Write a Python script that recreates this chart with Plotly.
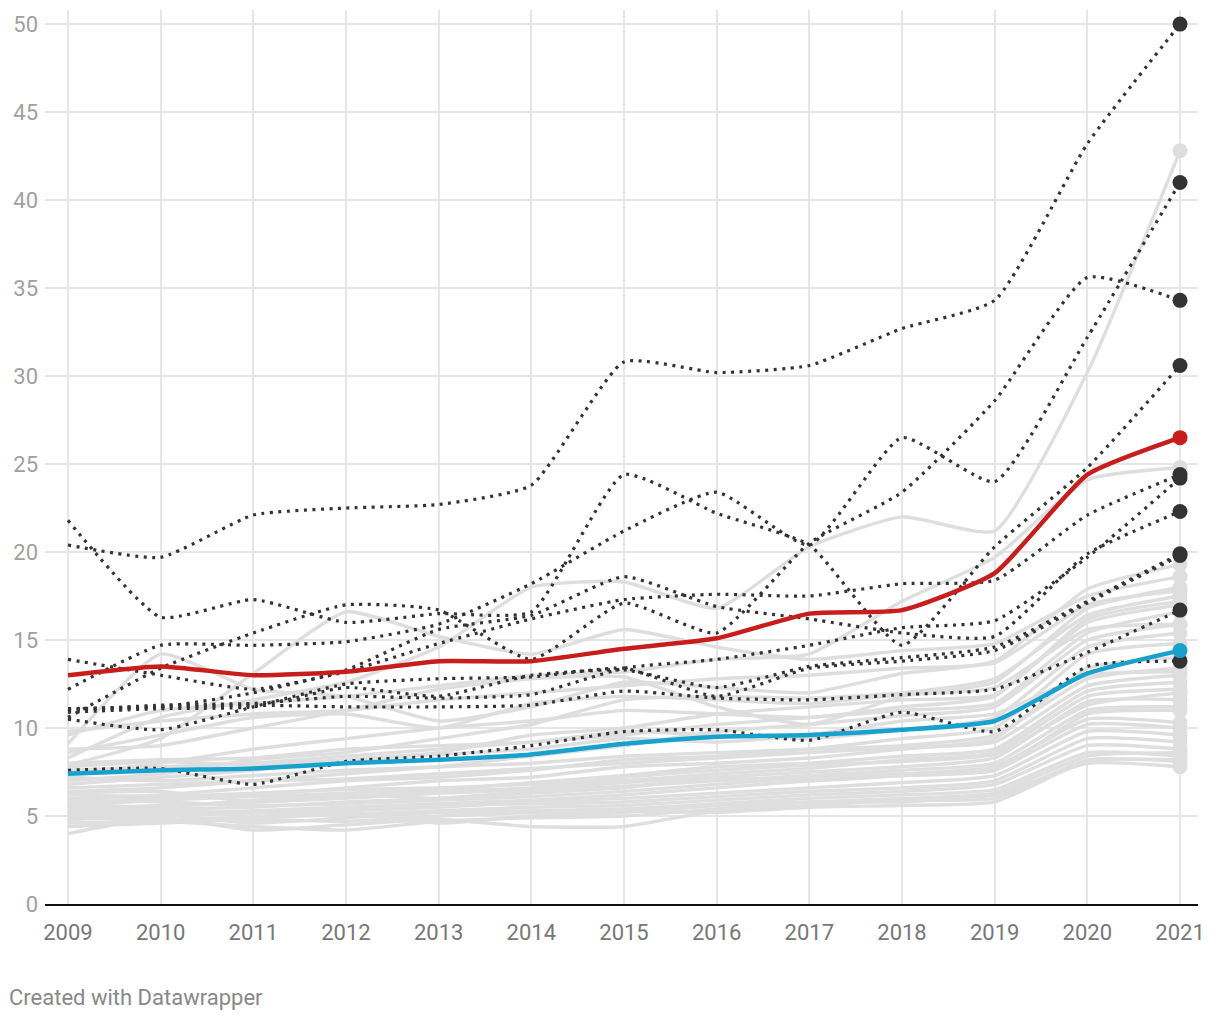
import plotly.graph_objects as go

years = list(range(2009, 2022))

# highlighted series
red_values = [13.0, 13.5, 13.0, 13.2, 13.8, 13.8, 14.5, 15.1, 16.5, 16.7, 18.8, 24.4, 26.5]
blue_values = [7.4, 7.6, 7.7, 8.0, 8.2, 8.5, 9.1, 9.5, 9.6, 9.9, 10.4, 13.1, 14.4]

# dotted (dark) series
d01 = [20.4, 19.7, 22.1, 22.5, 22.7, 23.8, 30.8, 30.2, 30.6, 32.7, 34.3, 43.2, 50.0]
d02 = [21.8, 16.3, 17.3, 16.0, 16.5, 16.6, 24.4, 22.2, 20.4, 14.7, 20.3, 24.8, 30.6]
d03 = [10.6, 13.4, 15.4, 17.0, 16.7, 13.9, 17.1, 15.4, 20.5, 23.4, 28.6, 35.6, 34.3]
d04 = [12.2, 14.7, 14.7, 14.9, 15.9, 18.2, 21.2, 23.4, 20.4, 26.5, 24.0, 32.2, 41.0]
d05 = [13.9, 13.0, 12.2, 13.2, 14.8, 16.2, 17.3, 17.6, 17.5, 18.2, 18.4, 22.1, 24.4]
d06 = [11.1, 11.2, 12.0, 13.3, 15.6, 16.4, 18.6, 16.9, 16.2, 15.4, 15.2, 19.9, 22.3]
d07 = [11.0, 11.3, 11.4, 11.8, 11.7, 11.9, 13.4, 13.9, 14.7, 15.7, 16.1, 19.7, 24.2]
d08 = [10.9, 11.1, 11.2, 12.3, 11.8, 13.0, 13.3, 12.3, 13.5, 14.0, 14.6, 17.2, 19.9]
d09 = [10.5, 9.9, 11.2, 12.5, 12.8, 12.9, 13.4, 11.8, 13.4, 13.8, 14.4, 17.1, 19.8]
d10 = [11.1, 11.2, 11.3, 11.2, 11.2, 11.3, 12.1, 11.7, 11.6, 11.9, 12.2, 14.3, 16.7]
d11 = [7.6, 7.7, 6.8, 8.1, 8.4, 9.0, 9.8, 9.9, 9.3, 10.9, 9.8, 13.5, 13.8]
dotted_series = [d01, d02, d03, d04, d05, d06, d07, d08, d09, d10, d11]

# background (gray) series
g01 = [8.3, 10.6, 11.6, 12.6, 14.6, 18.0, 18.3, 16.8, 20.3, 22.0, 21.2, 30.2, 42.8]
g02 = [9.6, 11.0, 11.4, 11.8, 12.4, 13.0, 13.2, 13.9, 14.2, 17.2, 19.7, 24.1, 24.8]
g03 = [9.1, 14.2, 12.2, 11.8, 10.4, 11.2, 12.6, 12.3, 12.0, 13.1, 13.8, 17.9, 19.3]
g04 = [7.9, 9.4, 13.1, 16.6, 15.2, 14.2, 15.6, 14.6, 13.9, 14.4, 14.8, 17.5, 18.6]
g05 = [8.8, 9.0, 10.0, 11.0, 12.2, 12.8, 12.9, 11.2, 10.2, 11.8, 12.6, 16.8, 18.0]
g06 = [7.0, 7.4, 8.2, 8.6, 9.4, 10.2, 11.6, 11.8, 11.7, 12.0, 12.8, 16.4, 17.5]
g07 = [6.8, 7.2, 7.6, 8.2, 8.6, 9.6, 10.0, 10.8, 11.2, 11.6, 11.9, 16.0, 17.0]
g08 = [7.6, 7.8, 8.0, 8.4, 8.8, 9.2, 9.6, 10.2, 10.6, 11.0, 11.4, 15.4, 16.6]
g09 = [6.4, 6.6, 7.0, 7.4, 7.8, 8.4, 9.0, 9.8, 10.2, 10.7, 11.2, 15.0, 15.9]
g10 = [8.0, 8.2, 8.3, 8.8, 9.0, 9.2, 9.8, 9.6, 9.4, 9.9, 10.6, 14.6, 15.4]
g11 = [6.0, 6.2, 6.6, 7.0, 7.2, 7.6, 8.2, 8.4, 8.8, 9.4, 10.0, 14.2, 14.8]
g12 = [5.8, 6.0, 6.2, 6.6, 7.0, 7.2, 7.8, 8.0, 8.3, 8.8, 9.4, 13.4, 14.0]
g13 = [7.2, 7.0, 7.3, 7.6, 7.8, 8.0, 8.4, 8.6, 8.8, 9.0, 9.6, 12.8, 13.4]
g14 = [6.6, 6.8, 7.0, 7.1, 7.4, 7.7, 8.0, 8.3, 8.6, 8.9, 9.2, 12.4, 13.0]
g15 = [5.6, 5.9, 6.1, 6.3, 6.5, 6.9, 7.3, 7.8, 8.0, 8.4, 8.8, 12.1, 12.6]
g16 = [6.2, 6.1, 6.3, 6.5, 6.6, 6.8, 7.0, 7.4, 7.7, 8.2, 8.6, 11.8, 12.2]
g17 = [5.4, 5.6, 5.8, 6.0, 6.3, 6.5, 6.9, 7.2, 7.5, 7.8, 8.3, 11.5, 11.6]
g18 = [5.2, 5.4, 5.5, 5.8, 6.0, 6.4, 6.7, 7.0, 7.3, 7.6, 8.0, 11.0, 11.2]
g19 = [6.0, 5.8, 5.6, 5.7, 5.9, 6.1, 6.4, 6.8, 7.2, 7.4, 7.8, 10.5, 10.3]
g20 = [5.0, 5.1, 5.3, 5.5, 5.7, 5.9, 6.2, 6.6, 7.0, 7.3, 7.6, 10.2, 10.0]
g21 = [4.8, 5.0, 5.2, 5.3, 5.5, 5.8, 6.0, 6.3, 6.6, 6.9, 7.3, 9.8, 9.6]
g22 = [5.5, 5.3, 5.2, 5.4, 5.6, 5.7, 5.8, 6.1, 6.4, 6.6, 7.0, 9.4, 9.2]
g23 = [4.9, 4.8, 4.9, 5.1, 5.3, 5.5, 5.6, 5.9, 6.2, 6.4, 6.8, 9.0, 8.8]
g24 = [5.3, 5.1, 4.6, 4.9, 5.2, 5.3, 5.4, 5.7, 6.0, 6.2, 6.5, 8.6, 8.4]
g25 = [4.0, 4.9, 4.2, 4.5, 4.8, 4.4, 4.4, 5.3, 5.6, 5.9, 6.0, 8.2, 8.1]
g26 = [4.6, 4.7, 4.4, 4.2, 4.7, 4.9, 5.0, 5.4, 5.8, 5.8, 6.2, 8.0, 7.8]
g27 = [9.8, 10.4, 10.8, 11.0, 11.6, 12.0, 12.4, 12.8, 13.0, 13.4, 13.7, 17.0, 17.8]
g28 = [8.6, 9.6, 10.6, 10.8, 10.0, 11.4, 11.8, 11.6, 11.4, 11.9, 12.3, 15.6, 15.9]
g29 = [7.4, 8.0, 8.8, 9.4, 10.0, 10.4, 11.0, 10.8, 10.6, 11.2, 11.8, 16.2, 17.2]
g30 = [5.7, 5.5, 5.9, 6.2, 6.0, 6.3, 6.6, 7.2, 7.0, 7.3, 7.6, 10.8, 11.0]
g31 = [6.3, 6.4, 5.8, 6.1, 6.4, 6.6, 7.2, 7.6, 7.9, 8.1, 8.5, 11.3, 12.0]
g32 = [5.1, 5.3, 5.0, 5.2, 4.6, 5.0, 5.2, 5.6, 5.8, 6.0, 6.3, 8.4, 8.6]
g33 = [4.4, 4.6, 4.8, 4.7, 5.0, 5.2, 5.3, 5.2, 5.5, 5.6, 5.8, 8.1, 8.2]
g34 = [7.8, 8.1, 7.9, 8.2, 8.5, 8.8, 9.4, 9.2, 9.6, 10.4, 10.8, 13.0, 13.2]
gray_series = [g01, g02, g03, g04, g05, g06, g07, g08, g09, g10, g11, g12, g13, g14, g15, g16, g17,
               g18, g19, g20, g21, g22, g23, g24, g25, g26, g27, g28, g29, g30, g31, g32, g33, g34]

y_ticks = [0, 5, 10, 15, 20, 25, 30, 35, 40, 45, 50]

GRAY = "#dedede"
DARK = "#333333"
RED = "#c71e1d"
BLUE = "#18a1cd"
SMOOTH = 0.5

fig = go.Figure()


def add_series(vals, color, width, dash="solid", msize=15):
    fig.add_trace(go.Scatter(
        x=years, y=vals, mode="lines",
        line=dict(color=color, width=width, dash=dash, shape="spline", smoothing=SMOOTH),
        hoverinfo="skip", showlegend=False))
    fig.add_trace(go.Scatter(
        x=[years[-1]], y=[vals[-1]], mode="markers",
        marker=dict(color=color, size=msize, line=dict(width=0)),
        hoverinfo="skip", showlegend=False))


for s in gray_series:
    add_series(s, GRAY, 3.4)
for s in dotted_series:
    add_series(s, DARK, 3.2, dash="3px,5.5px")
add_series(blue_values, BLUE, 4.5)
add_series(red_values, RED, 4.5)

# page body adds an 8px offset; margins compensate so the plot lands at the reference position
PLOT_W = 1220 - 37 - 30
PLOT_H = 1020 - 2 - 124

fig.update_layout(
    width=1220, height=1020,
    margin=dict(l=37, r=30, t=2, b=124),
    paper_bgcolor="white", plot_bgcolor="white",
    font=dict(family="Roboto", size=22, color="#888888"),
    xaxis=dict(
        range=[2008.752, 2021.194],
        tickvals=years, ticktext=[str(y) for y in years],
        showgrid=True, gridcolor="#e6e6e6", gridwidth=2,
        zeroline=False, showline=True, linecolor="#111111", linewidth=2,
        ticks="", tickfont=dict(size=22, color="#777777"),
        ticklabelstandoff=8,
        fixedrange=True,
    ),
    yaxis=dict(
        range=[0, 50.8],
        tickvals=y_ticks, ticktext=[str(v) for v in y_ticks],
        showgrid=True, gridcolor="#e6e6e6", gridwidth=2,
        zeroline=False, showline=False,
        ticks="", tickfont=dict(size=22, color="#a0a0a0"),
        ticklabelstandoff=6,
        fixedrange=True,
    ),
    annotations=[dict(
        text="Created with Datawrapper", xref="paper", yref="paper",
        x=-38 / PLOT_W, y=-93 / PLOT_H, xanchor="left", yanchor="middle",
        showarrow=False, font=dict(family="Roboto", size=22, color="#888888"),
    )],
)

fig.write_html("out.html")
